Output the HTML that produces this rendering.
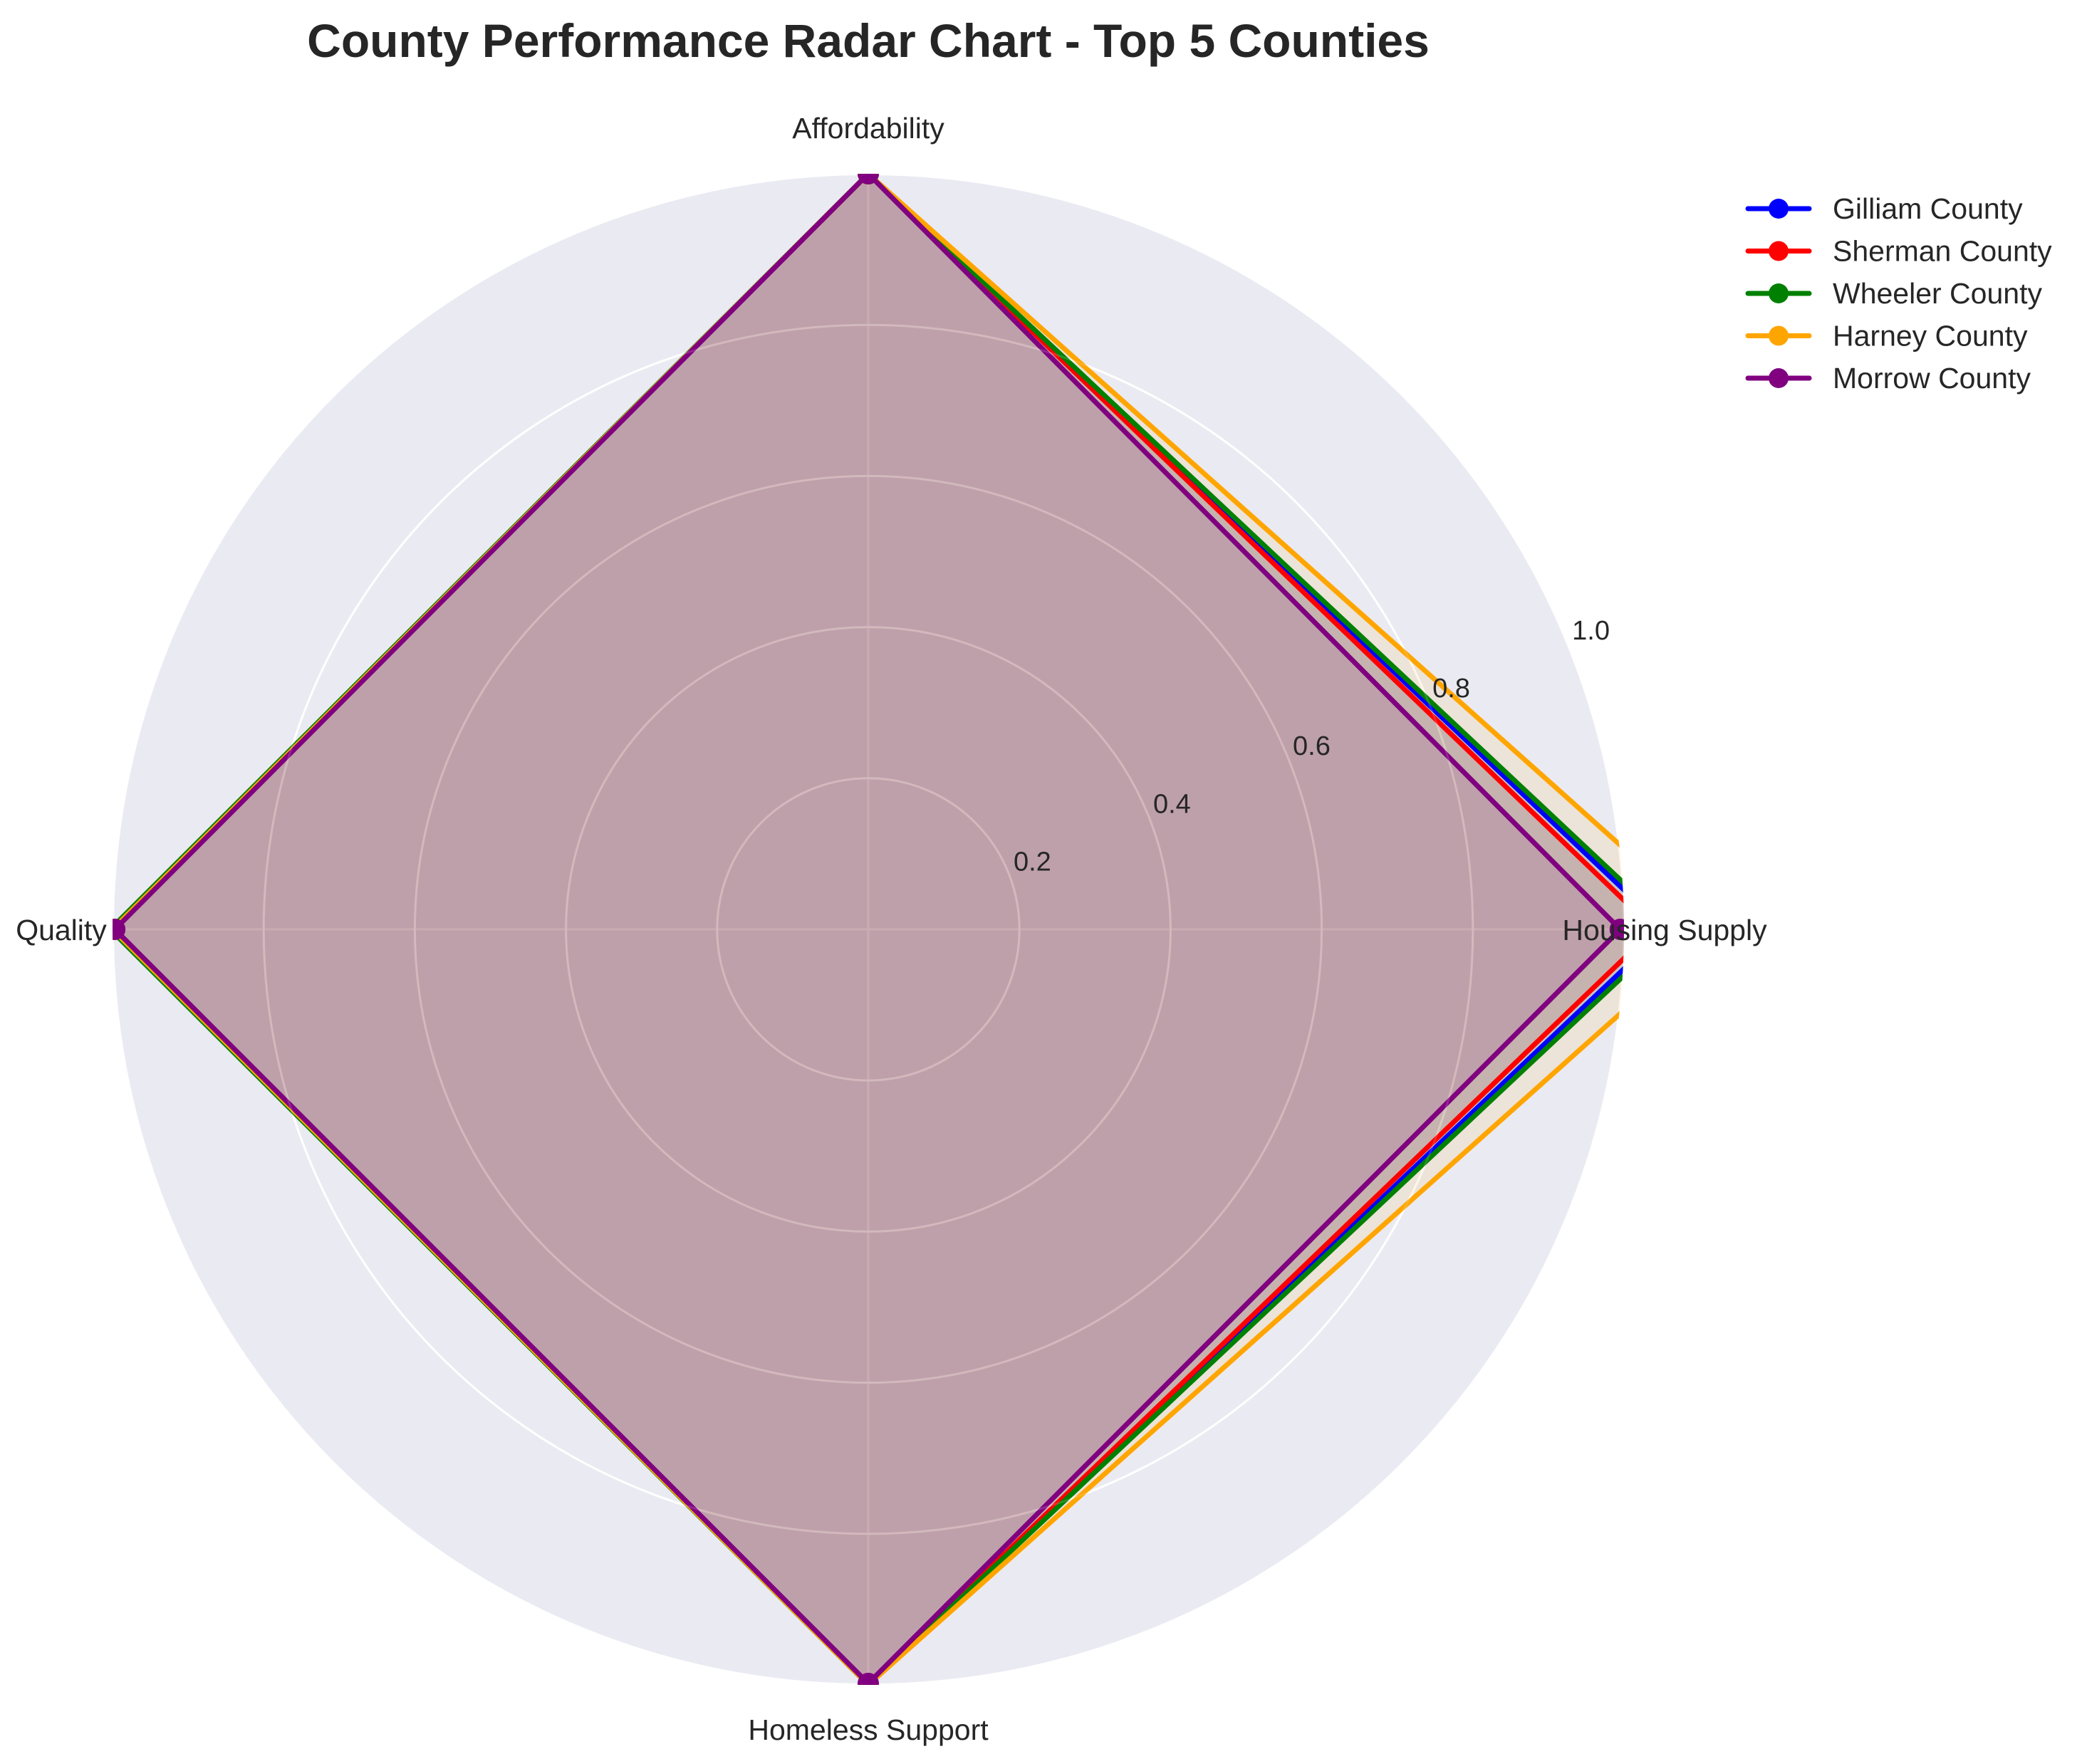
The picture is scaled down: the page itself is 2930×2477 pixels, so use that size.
<!DOCTYPE html>
<html><head><meta charset="utf-8"><style>
html,body{margin:0;padding:0;background:#fff;}
svg{display:block;font-family:"Liberation Sans","DejaVu Sans",sans-serif;}
</style></head><body>
<svg id="chart" width="2930" height="2477" viewBox="0 0 2930 2477">
<defs><clipPath id="clip"><circle id="clipc" cx="0" cy="0" r="0"/></clipPath></defs>
<text x="1219" y="80" text-anchor="middle" font-size="66" font-weight="bold" fill="#262626">County Performance Radar Chart - Top 5 Counties</text>
<g id="plot"></g>
<g id="legend"></g>
</svg>
<script>
const categories = ["Housing Supply", "Affordability", "Quality", "Homeless Support"];
const counties = ["Gilliam County", "Sherman County", "Wheeler County", "Harney County", "Morrow County"];
const colors = ["#0000ff", "#ff0000", "#008000", "#ffa500", "#800080"];
const gilliamValues = [1.055, 1.0, 1.0, 1.0];
const shermanValues = [1.04, 1.0, 1.0, 1.0];
const wheelerValues = [1.065, 1.0, 1.003, 1.0];
const harneyValues = [1.12, 1.0, 1.0, 1.0];
const morrowValues = [0.995, 1.0, 0.997, 0.998];
const rTicks = [0.2, 0.4, 0.6, 0.8, 1.0];
const rTickLabels = ["0.2", "0.4", "0.6", "0.8", "1.0"];
const seriesValues = [gilliamValues, shermanValues, wheelerValues, harneyValues, morrowValues];

const NS = "http://www.w3.org/2000/svg";
const cx = 1219, cy = 1305, R = 1061, rMax = 1.0;
function rScale(v){ return v / rMax * R; }
function angle(i){ return i * 2 * Math.PI / categories.length; }
function px(i, v){ return cx + rScale(v) * Math.cos(angle(i)); }
function py(i, v){ return cy - rScale(v) * Math.sin(angle(i)); }
function mk(tag, attrs, parent){ const e = document.createElementNS(NS, tag); for (const k in attrs) e.setAttribute(k, attrs[k]); parent.appendChild(e); return e; }

const clipc = document.getElementById('clipc');
clipc.setAttribute('cx', cx); clipc.setAttribute('cy', cy); clipc.setAttribute('r', R);
const plot = document.getElementById('plot');

const bg = mk('circle', {cx: cx, cy: cy, r: R, fill: '#eaeaf2'}, plot);



rTicks.forEach((t, k) => {
  const c = mk('circle', {cx: cx, cy: cy, r: rScale(t), fill: 'none', stroke: '#fff', 'stroke-width': k === rTicks.length - 1 ? 4 : 3}, plot);
  
  
});
categories.forEach((c, i) => {
  const l = mk('line', {x1: cx, y1: cy, x2: px(i, rMax), y2: py(i, rMax), stroke: '#fff', 'stroke-width': 3}, plot);
  
  
});

const series = mk('g', {'clip-path': 'url(#clip)'}, plot);
seriesValues.forEach((vals, s) => {
  const pts = vals.map((v, i) => px(i, v).toFixed(1) + ',' + py(i, v).toFixed(1)).join(' ');
  const f = mk('polygon', {points: pts, fill: colors[s], 'fill-opacity': 0.1, stroke: 'none'}, series);
  
  
});
seriesValues.forEach((vals, s) => {
  const pts = vals.map((v, i) => px(i, v).toFixed(1) + ',' + py(i, v).toFixed(1)).join(' ');
  const p = mk('polygon', {points: pts, fill: 'none', stroke: colors[s], 'stroke-width': 7, 'stroke-linejoin': 'miter'}, series);
  
  
  vals.forEach((v, i) => {
    const m = mk('circle', {cx: px(i, v), cy: py(i, v), r: 15, fill: colors[s]}, series);
    
    
  });
});

rTicks.slice(0, -1).forEach(t => {
  const c = mk('circle', {cx: cx, cy: cy, r: rScale(t), fill: 'none', stroke: '#fff', 'stroke-opacity': 0.15, 'stroke-width': 3}, plot);
  
  
});

const la = 22.5 * Math.PI / 180;
rTicks.forEach((t, k) => {
  const rr = rScale(t + 0.035);
  const tx = mk('text', {x: cx + rr * Math.cos(la), y: cy - rr * Math.sin(la) + 13, 'text-anchor': 'middle', 'font-size': 38, fill: '#262626'}, plot);
  tx.textContent = rTickLabels[k];
  
  
});

const labelPos = [[2337, 1320, 'middle'], [1219, 194, 'middle'], [86, 1320, 'middle'], [1219, 2443, 'middle']];
categories.forEach((c, i) => {
  const lp = labelPos[i];
  const tx = mk('text', {x: lp[0], y: lp[1], 'text-anchor': lp[2], 'font-size': 41, fill: '#262626'}, plot);
  tx.textContent = c;
  
  
});

const legend = document.getElementById('legend');
counties.forEach((n, s) => {
  const y = 293 + s * 59.5;
  const g = mk('g', {}, legend);
  
  
  mk('line', {x1: 2454, y1: y, x2: 2540, y2: y, stroke: colors[s], 'stroke-width': 7, 'stroke-linecap': 'round'}, g);
  mk('circle', {cx: 2497, cy: y, r: 14, fill: colors[s]}, g);
  const tx = mk('text', {x: 2573, y: y + 14, 'font-size': 41, fill: '#262626'}, g);
  tx.textContent = n;
});
</script>
</body></html>
